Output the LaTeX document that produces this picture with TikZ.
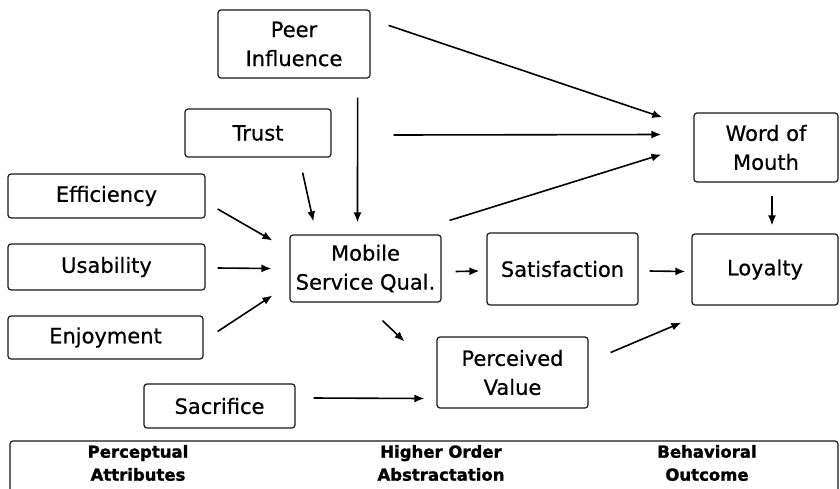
\documentclass[tikz,border=0pt]{standalone}
\usepackage{fontspec}
\setmainfont{DejaVu Sans}[FakeBold=1.2,BoldFeatures={FakeBold=1.5}]
\newfontfamily\labelfont{DejaVu Sans}[FakeBold=0.6]
\usetikzlibrary{calc,arrows.meta}
\begin{document}
\begin{tikzpicture}[x=1pt,y=-1pt,
  box/.style={draw=black!90,line width=1.2pt,rounded corners=3pt,align=center,inner sep=0pt,
    font=\labelfont\fontsize{21}{29}\selectfont},
  arr/.style={line width=1.6pt,-{Latex[length=10pt,width=8pt]}},
  lbl/.style={align=center,inner sep=0pt,font=\fontsize{16.5}{23}\selectfont\bfseries}]
\useasboundingbox (0,0) rectangle (840,488);
\node[box,minimum width=152pt,minimum height=68pt] (peer) at (294,44) {Peer\\Influence};
\node[box,minimum width=146pt,minimum height=48pt] (trust) at (258,133) {Trust};
\node[box,minimum width=197pt,minimum height=44pt] (eff) at (106.5,196) {Efficiency};
\node[box,minimum width=197pt,minimum height=46pt] (usa) at (106.5,267) {Usability};
\node[box,minimum width=195pt,minimum height=43pt] (enj) at (105.5,337.5) {Enjoyment};
\node[box,minimum width=151pt,minimum height=44pt] (sac) at (219.5,406) {Sacrifice};
\node[box,minimum width=151pt,minimum height=67pt] (msq) at (365.5,268.5) {Mobile\\Service Qual.};
\node[box,minimum width=151pt,minimum height=72pt] (sat) at (562.5,269) {Satisfaction};
\node[box,minimum width=144pt,minimum height=69pt] (wom) at (766,147.5) {Word of\\Mouth};
\node[box,minimum width=146pt,minimum height=71pt] (loy) at (765,269.5) {Loyalty};
\node[box,minimum width=151pt,minimum height=71pt] (pv) at (512.5,372.5) {Perceived\\Value};
\begin{scope}
\clip (0,0) rectangle (840,488);
\draw[black!90,line width=1.2pt,rounded corners=3pt] (10,441) rectangle (838,520);
\end{scope}
\node[lbl] (pa) at (138,463) {Perceptual\\Attributes};
\node[lbl] (ho) at (441,463) {Higher Order\\Abstractation};
\node[lbl] (bo) at (707,463) {Behavioral\\Outcome};
\draw[arr] ($(peer.north east)+(18,16)$) -- ($(wom.north west)+(-31,5)$);
\draw[arr] ($(trust.east)+(62,2)$) -- ($(wom.west)+(-32,-13)$);
\draw[arr] ($(msq.north east)+(8,-14)$) -- ($(wom.west)+(-32,7)$);
\draw[arr] ($(peer.south east)+(-13,19)$) -- ($(msq.north)+(-8,-12)$);
\draw[arr] ($(trust.south east)+(-29,15)$) -- ($(msq.north west)+(24,-13)$);
\draw[arr] ($(eff.east)+(12,13)$) -- ($(msq.west)+(-17,-28)$);
\draw[arr] ($(usa.east)+(12,1)$) -- ($(msq.west)+(-18,0)$);
\draw[arr] ($(enj.east)+(14,-6)$) -- ($(msq.west)+(-17,27)$);
\draw[arr] ($(msq.east)+(14,3)$) -- ($(sat.west)+(-7,2)$);
\draw[arr] ($(sat.east)+(11,2)$) -- ($(loy.west)+(-6,2)$);
\draw[arr] ($(wom.south)+(6,13)$) -- ($(loy.north)+(7,-8)$);
\draw[arr] ($(msq.south)+(17,18)$) -- ($(pv.north west)+(-32,5)$);
\draw[arr] ($(sac.east)+(18,-8)$) -- ($(pv.west)+(-12,26)$);
\draw[arr] ($(pv.east)+(22,-20)$) -- ($(loy.south west)+(-10,17)$);
\end{tikzpicture}
\end{document}
